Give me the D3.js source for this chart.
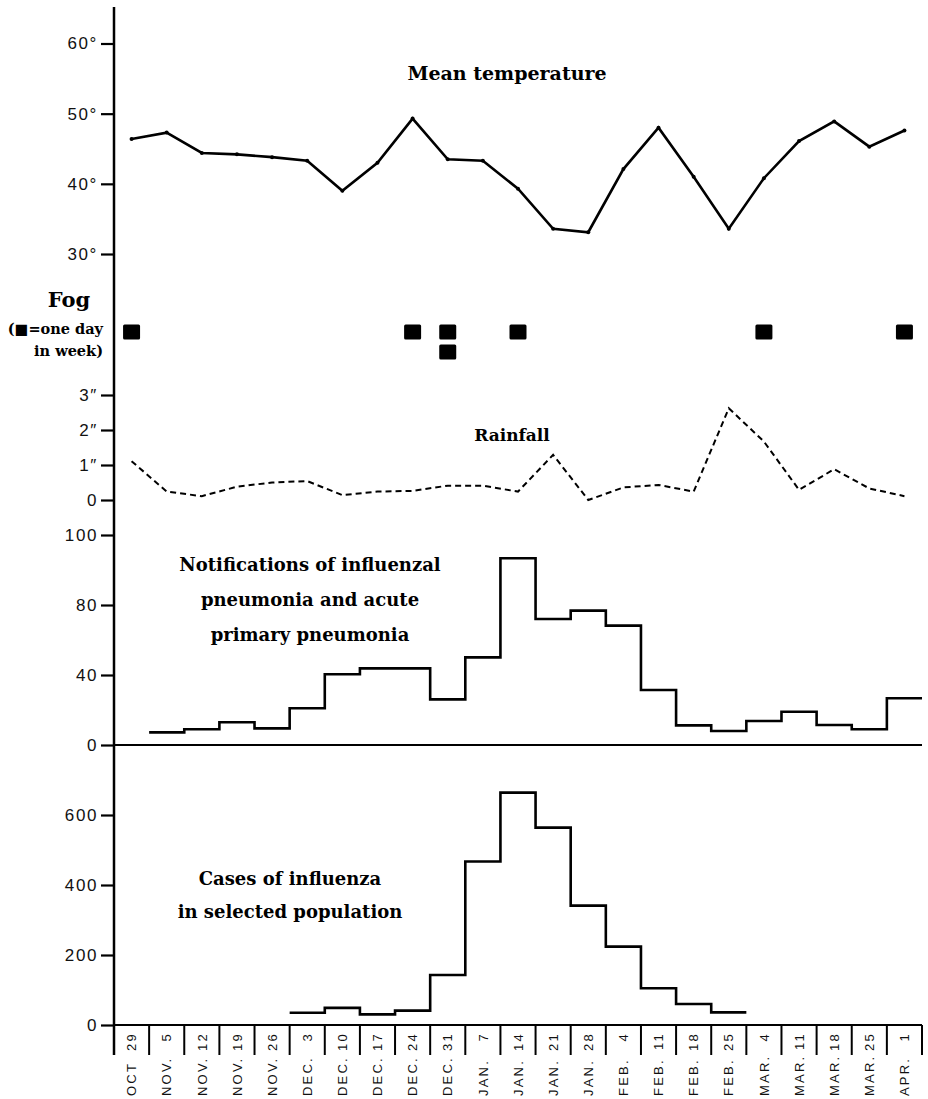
<!DOCTYPE html>
<html>
<head>
<meta charset="utf-8">
<script src="https://cdn.jsdelivr.net/npm/d3@7"></script>
<style>
  body { margin: 0; background: #fff; }
  svg { display: block; }
</style>
</head>
<body>
<svg id="chart"></svg>
<script>
// Weekly data, week beginning
const weekMonths = ["OCT", "NOV.", "NOV.", "NOV.", "NOV.", "DEC.", "DEC.", "DEC.", "DEC.", "DEC.",
                    "JAN.", "JAN.", "JAN.", "JAN.", "FEB.", "FEB.", "FEB.", "FEB.",
                    "MAR.", "MAR.", "MAR.", "MAR.", "APR."];
const weekDays = ["29", "5", "12", "19", "26", "3", "10", "17", "24", "31",
                  "7", "14", "21", "28", "4", "11", "18", "25",
                  "4", "11", "18", "25", "1"];
const weeks = weekMonths.map((m, i) => m + " " + weekDays[i]);

const meanTemp = [46.4, 47.3, 44.4, 44.2, 43.8, 43.3, 39.0, 43.0, 49.3, 43.5, 43.3, 39.3,
                  33.6, 33.1, 42.1, 48.0, 41.0, 33.6, 40.8, 46.1, 48.9, 45.3, 47.6];
const fogDays = [1, 0, 0, 0, 0, 0, 0, 0, 1, 2, 0, 1, 0, 0, 0, 0, 0, 0, 1, 0, 0, 0, 1];
const rainfall = [1.11, 0.24, 0.11, 0.38, 0.50, 0.54, 0.14, 0.24, 0.26, 0.41, 0.41, 0.24,
                  1.29, 0.0, 0.36, 0.43, 0.24, 2.62, 1.67, 0.29, 0.88, 0.33, 0.11];
const notifications = [null, 7.2, 9.0, 13.0, 9.5, 21, 40.4, 43.8, 43.8, 26.1, 50.1, 106.7,
                       72, 76.8, 68.2, 31.4, 11.2, 8.0, 13.7, 19.0, 11.4, 9.0, 26.7];
const influenzaCases = [null, null, null, null, null, 35, 49, 30.5, 41, 143, 467, 664,
                        564, 341, 224, 105, 60, 36, null, null, null, null, null];

// Tick values and labels
const tempTicks = [30, 40, 50, 60];
const rainTicks = [0, 1, 2, 3];
const notifTicks = [0, 40, 80, 120];
const notifTickLabels = ["0", "40", "80", "100"]; // printed that way on the original
const caseTicks = [0, 200, 400, 600];

const width = 928, height = 1099;
const svg = d3.select("#chart").attr("width", width).attr("height", height);

const axisX = 114, plotRight = 922;
const serif = "'DejaVu Serif', serif";
const sans = "'Liberation Sans', Arial, sans-serif";

const x = d3.scaleBand().domain(weeks).range([axisX, plotRight]).padding(0);
const cx = w => x(w) + x.bandwidth() / 2;

const yTemp = d3.scaleLinear().domain([30, 60]).range([254, 43.5]);
const yRain = d3.scaleLinear().domain([0, 3]).range([500, 395]);
const yNotif = d3.scaleLinear().domain([0, 120]).range([745, 535]);
const yCases = d3.scaleLinear().domain([0, 600]).range([1025, 815]);
const yFog = d3.scaleLinear().domain([1, 2]).range([332, 352]);

// Left ticks for each panel (domain path removed, one shared axis line drawn below)
function leftAxis (scale, ticks, fmt) {
    const g = svg.append("g")
        .attr("transform", "translate(" + axisX + ",0)")
        .call(d3.axisLeft(scale).tickValues(ticks).tickSize(13).tickPadding(3).tickFormat(fmt));
    g.select(".domain").remove();
    g.selectAll(".tick line").attr("stroke", "#000").attr("stroke-width", 2.2);
    g.selectAll(".tick text")
        .attr("fill", "#111")
        .style("font-family", sans)
        .style("font-size", "17px")
        .style("letter-spacing", "1.6px");
    return g;
}
leftAxis(yTemp, tempTicks, d => d + "\u00B0");
leftAxis(yRain, rainTicks, d => d === 0 ? "0" : d + "\u2033");
leftAxis(yNotif, notifTicks, (d, i) => notifTickLabels[i]);
leftAxis(yCases, caseTicks, d => d);

// Shared vertical axis
svg.append("line")
    .attr("x1", axisX).attr("x2", axisX)
    .attr("y1", 7).attr("y2", 1055)
    .attr("stroke", "#000").attr("stroke-width", 2.5);

// Zero baselines of the two count panels
[yNotif(0), yCases(0)].forEach(y0 => {
    svg.append("line")
        .attr("x1", axisX).attr("x2", plotRight)
        .attr("y1", y0).attr("y2", y0)
        .attr("stroke", "#000").attr("stroke-width", 2);
});

// Week ticks along the bottom
const xAxis = svg.append("g")
    .attr("transform", "translate(0," + yCases(0) + ")");
const bounds = weeks.map(w => x(w)).concat([plotRight]);
xAxis.selectAll("line.weekTick")
    .data(bounds)
    .join("line")
        .attr("class", "weekTick")
        .attr("x1", d => d).attr("x2", d => d)
        .attr("y1", 0).attr("y2", 30)
        .attr("stroke", "#000").attr("stroke-width", 2);

// Week labels: month at the bottom, day at the top, rotated
const labelFont = g => g
    .style("font-family", sans)
    .style("font-size", "13px")
    .style("letter-spacing", "2.2px")
    .attr("fill", "#111")
    .attr("dy", "0.36em");
svg.selectAll("text.weekMonth")
    .data(weeks)
    .join("text")
        .attr("class", "weekMonth")
        .attr("transform", w => "translate(" + cx(w) + ",1096) rotate(-90)")
        .attr("text-anchor", "start")
        .text((w, i) => weekMonths[i])
        .call(labelFont);
svg.selectAll("text.weekDay")
    .data(weeks)
    .join("text")
        .attr("class", "weekDay")
        .attr("transform", w => "translate(" + cx(w) + ",1032) rotate(-90)")
        .attr("text-anchor", "end")
        .text((w, i) => weekDays[i])
        .call(labelFont);

// Mean temperature
const tempLine = d3.line()
    .x((d, i) => cx(weeks[i]))
    .y(d => yTemp(d));
svg.append("path")
    .datum(meanTemp)
    .attr("d", tempLine)
    .attr("fill", "none")
    .attr("stroke", "#000")
    .attr("stroke-width", 2.6)
    .attr("stroke-linejoin", "miter");
svg.selectAll("circle.tempPt")
    .data(meanTemp)
    .join("circle")
        .attr("class", "tempPt")
        .attr("cx", (d, i) => cx(weeks[i]))
        .attr("cy", d => yTemp(d))
        .attr("r", 2)
        .attr("fill", "#000");

// Fog squares, one per day in week
const fogCells = [];
fogDays.forEach((n, i) => {
    for (let k = 1; k <= n; k++) fogCells.push({ week: weeks[i], k: k });
});
svg.selectAll("rect.fog")
    .data(fogCells)
    .join("rect")
        .attr("class", "fog")
        .attr("x", d => cx(d.week) - 8.5)
        .attr("y", d => yFog(d.k) - 7.5)
        .attr("width", 17)
        .attr("height", 15)
        .attr("rx", 1.5)
        .attr("fill", "#000");

// Rainfall
const rainLine = d3.line()
    .x((d, i) => cx(weeks[i]))
    .y(d => yRain(d));
svg.append("path")
    .datum(rainfall)
    .attr("d", rainLine)
    .attr("fill", "none")
    .attr("stroke", "#000")
    .attr("stroke-width", 2)
    .attr("stroke-dasharray", "6,4");

// Step outlines for weekly counts
function stepPoints (vals) {
    const pts = [];
    vals.forEach((v, i) => {
        if (v == null) return;
        pts.push([x(weeks[i]), v], [x(weeks[i]) + x.bandwidth(), v]);
    });
    return pts;
}
function drawSteps (vals, yScale) {
    svg.append("path")
        .datum(stepPoints(vals))
        .attr("d", d3.line().x(d => d[0]).y(d => yScale(d[1])))
        .attr("fill", "none")
        .attr("stroke", "#000")
        .attr("stroke-width", 2.6)
        .attr("stroke-linejoin", "miter");
}
drawSteps(notifications, yNotif);
drawSteps(influenzaCases, yCases);

// Panel titles
function title (lines, xMid, y0, dy, size) {
    const t = svg.append("text")
        .attr("text-anchor", "middle")
        .style("font-family", serif)
        .style("font-size", size + "px")
        .style("font-weight", "bold")
        .attr("fill", "#000");
    lines.forEach((s, i) => t.append("tspan").attr("x", xMid).attr("y", y0 + i * dy).text(s));
}
title(["Mean temperature"], 507, 80, 0, 19);
title(["Rainfall"], 512, 441, 0, 17);
title(["Notifications of influenzal", "pneumonia and acute", "primary pneumonia"], 310, 571, 35, 18);
title(["Cases of influenza", "in selected population"], 290, 885, 33, 18);

// Fog legend
svg.append("text")
    .attr("x", 69).attr("y", 307)
    .attr("text-anchor", "middle")
    .style("font-family", serif).style("font-size", "21px").style("font-weight", "bold")
    .text("Fog");
const fogNote = svg.append("text")
    .attr("text-anchor", "end")
    .style("font-family", serif).style("font-size", "14.5px").style("font-weight", "bold");
fogNote.append("tspan").attr("x", 103).attr("y", 334).text("(\u25A0=one day");
fogNote.append("tspan").attr("x", 103).attr("y", 356).text("in week)");
</script>
</body>
</html>
